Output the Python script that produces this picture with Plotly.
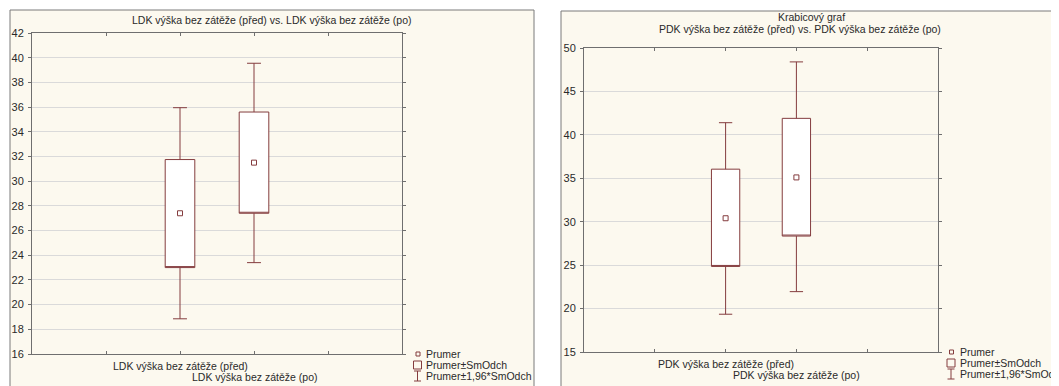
import plotly.graph_objects as go

# ---------------- data ----------------
left_labels = ["LDK výška bez zátěže (před)", "LDK výška bez zátěže (po)"]
left_mean = [27.4, 31.5]
left_sd_lo = [23.0, 27.4]
left_sd_hi = [31.75, 35.6]
left_ci_lo = [18.85, 23.4]
left_ci_hi = [35.95, 39.55]

right_labels = ["PDK výška bez zátěže (před)", "PDK výška bez zátěže (po)"]
right_mean = [30.4, 35.1]
right_sd_lo = [24.85, 28.35]
right_sd_hi = [36.05, 41.9]
right_ci_lo = [19.35, 21.95]
right_ci_hi = [41.4, 48.4]

left_title = "LDK výška bez zátěže (před) vs. LDK výška bez zátěže (po)"
right_title_1 = "Krabicový graf"
right_title_2 = "PDK výška bez zátěže (před) vs. PDK výška bez zátěže (po)"
legend_texts = ["Prumer", "Prumer±SmOdch", "Prumer±1,96*SmOdch"]
cat_pos = [2, 3]

# ---------------- style ----------------
WIN_W, WIN_H = 1059, 386
OFF = 8  # page body margin of the html page
W, H = WIN_W - OFF, WIN_H - OFF
FONT = "Liberation Sans"
MAROON = "#843C3E"
GRID = "#DADADA"
AXIS = "#6F6F6F"
CREAM = "#FCF9EF"
TEXT = "#2A2A2A"


def px(x):
    return (x - OFF) / W


def py(y):
    return 1 - (y - OFF) / H


fig = go.Figure()


def add_panel(xa, ya, means, sd_lo, sd_hi, ci_lo, ci_hi):
    for i in range(len(means)):
        fig.add_trace(go.Box(
            x=[cat_pos[i]], q1=[sd_lo[i]], median=[sd_lo[i]], q3=[sd_hi[i]],
            lowerfence=[ci_lo[i]], upperfence=[ci_hi[i]],
            width=0.4, whiskerwidth=0.47,
            line=dict(color=MAROON, width=1), fillcolor="white",
            boxpoints=False, showlegend=False, hoverinfo="skip",
            xaxis=xa, yaxis=ya))
    fig.add_trace(go.Scatter(
        x=cat_pos, y=means, mode="markers",
        marker=dict(symbol="square-open", size=5, color=MAROON,
                    line=dict(width=1, color=MAROON)),
        showlegend=False, hoverinfo="skip", xaxis=xa, yaxis=ya))


add_panel("x", "y", left_mean, left_sd_lo, left_sd_hi, left_ci_lo, left_ci_hi)
add_panel("x2", "y2", right_mean, right_sd_lo, right_sd_hi, right_ci_lo, right_ci_hi)

xcommon = dict(range=[0, 5], tickvals=[1, 2, 3, 4], ticks="inside", ticklen=3,
               tickcolor=AXIS, showline=True, linecolor=AXIS, linewidth=1,
               mirror="ticks", showgrid=False, zeroline=False,
               showticklabels=False, automargin=False, fixedrange=True)
ycommon = dict(ticks="outside", ticklen=3, tickcolor=AXIS, showline=True,
               linecolor=AXIS, linewidth=1, mirror="ticks", showgrid=True,
               gridcolor=GRID, gridwidth=1, zeroline=False,
               tickfont=dict(family=FONT, size=11, color=TEXT),
               ticklabelstandoff=2, automargin=False, fixedrange=True)

fig.update_layout(
    width=W, height=H, autosize=False,
    margin=dict(l=0, r=0, t=0, b=0, autoexpand=False),
    paper_bgcolor="white", plot_bgcolor="white",
    showlegend=False,
    xaxis=dict(domain=[px(32), px(402)], anchor="y", **xcommon),
    yaxis=dict(domain=[py(354), py(33)], anchor="x", range=[16, 42], dtick=2, **ycommon),
    xaxis2=dict(domain=[px(584), px(938)], anchor="y2", **xcommon),
    yaxis2=dict(domain=[py(352), py(48)], anchor="x2", range=[15, 50], dtick=5, **ycommon),
)

shapes = [
    dict(type="rect", xref="paper", yref="paper", x0=px(10), x1=px(534),
         y0=py(400), y1=py(10), fillcolor=CREAM, line=dict(color="#7A7A7A", width=1),
         layer="below"),
    dict(type="rect", xref="paper", yref="paper", x0=px(561), x1=px(1070),
         y0=py(400), y1=py(11), fillcolor=CREAM, line=dict(color="#7A7A7A", width=1),
         layer="below"),
]
annotations = [
    dict(text=left_title, x=px(272), y=py(20)),
    dict(text=right_title_1, x=px(811), y=py(17)),
    dict(text=right_title_2, x=px(800), y=py(29)),
]
for a in annotations:
    a.update(xref="paper", yref="paper", xanchor="center", yanchor="middle",
             showarrow=False, font=dict(family=FONT, size=10.5, color=TEXT))

# category labels (staggered, as in the reference) placed on the x axis scale
for xr, labels, ys in [("x", left_labels, [366, 377]), ("x2", right_labels, [364, 375])]:
    for pos, lab, yy in zip(cat_pos, labels, ys):
        annotations.append(dict(text=lab, xref=xr, yref="paper", x=pos, y=py(yy),
                                xanchor="center", yanchor="middle", showarrow=False,
                                font=dict(family=FONT, size=10.5, color=TEXT)))


def add_legend(icon_cx, text_x, rows_y):
    # mean marker
    shapes.append(dict(type="rect", xref="paper", yref="paper",
                       x0=px(icon_cx - 1.5), x1=px(icon_cx + 2.5),
                       y0=py(rows_y[0] + 2), y1=py(rows_y[0] - 2),
                       line=dict(color=MAROON, width=1), fillcolor="rgba(0,0,0,0)"))
    # box icon
    shapes.append(dict(type="rect", xref="paper", yref="paper",
                       x0=px(icon_cx - 4), x1=px(icon_cx + 4),
                       y0=py(rows_y[1] + 4), y1=py(rows_y[1] - 4),
                       line=dict(color=MAROON, width=1), fillcolor="rgba(0,0,0,0)"))
    # I-bar icon
    y0, y1 = rows_y[2] - 5, rows_y[2] + 5
    for (xa, ya, xb, yb) in [(icon_cx, y0, icon_cx, y1),
                             (icon_cx - 3.5, y0, icon_cx + 3.5, y0),
                             (icon_cx - 3.5, y1, icon_cx + 3.5, y1)]:
        shapes.append(dict(type="line", xref="paper", yref="paper",
                           x0=px(xa), x1=px(xb), y0=py(ya), y1=py(yb),
                           line=dict(color=MAROON, width=1)))
    for t, yy in zip(legend_texts, rows_y):
        annotations.append(dict(text=t, xref="paper", yref="paper", x=px(text_x),
                                y=py(yy), xanchor="left", yanchor="middle",
                                showarrow=False,
                                font=dict(family=FONT, size=10.5, color=TEXT)))


add_legend(417.5, 424, [354, 365, 376])
add_legend(951, 958, [352, 363, 374])

fig.update_layout(shapes=shapes, annotations=annotations)
fig.write_html("out.html")
